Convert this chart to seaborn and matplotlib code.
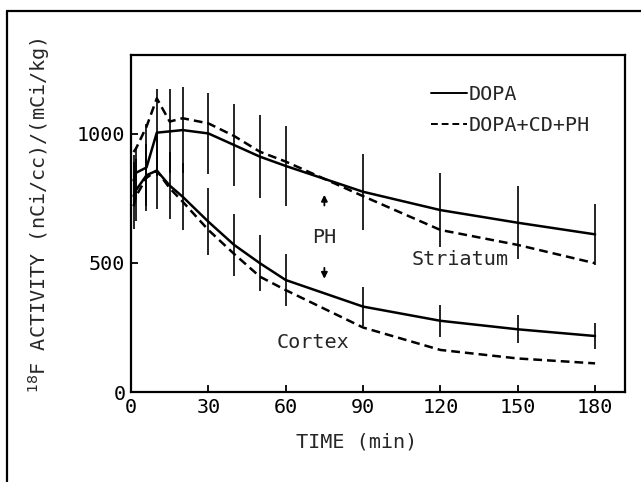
import pandas as pd
import seaborn as sns
import matplotlib.pyplot as plt
from matplotlib.lines import Line2D

# time points (min)
times = [1, 2, 6, 10, 15, 20, 30, 40, 50, 60, 90, 120, 150, 180]

# striatum
str_dopa = [820, 850, 870, 1005, 1010, 1015, 1002, 957, 912, 876, 776, 705, 656, 611]
str_dopa_err = [100, 100, 170, 168, 163, 167, 158, 160, 161, 156, 148, 144, 142, 118]
str_ph = [930, 945, 1028, 1138, 1048, 1061, 1041, 992, 931, 893, 759, 628, 570, 499]

# cortex
ctx_dopa = [760, 783, 840, 858, 800, 757, 660, 570, 499, 434, 331, 276, 243, 217]
ctx_dopa_err = [130, 120, 120, 150, 130, 130, 130, 120, 108, 99, 75, 62, 55, 50]
ctx_ph = [720, 760, 830, 858, 790, 738, 628, 535, 447, 395, 250, 163, 130, 111]

groups = {
    ("Striatum", "DOPA"): str_dopa,
    ("Striatum", "DOPA+CD+PH"): str_ph,
    ("Cortex", "DOPA"): ctx_dopa,
    ("Cortex", "DOPA+CD+PH"): ctx_ph,
}
rows = []
for (region, treat), vals in groups.items():
    for t, v in zip(times, vals):
        rows.append({"time": t, "activity": v, "region": region, "treatment": treat})
df = pd.DataFrame(rows)

sns.set_style("ticks")
plt.rcParams["font.family"] = ["DejaVu Sans Mono", "DejaVu Sans"]
plt.rcParams["font.size"] = 14.5

fig = plt.figure(figsize=(6.41, 4.82), dpi=100)
ax = fig.add_axes([0.2044, 0.1867, 0.7706, 0.6992])

sns.lineplot(data=df, x="time", y="activity", style="treatment", units="region",
             estimator=None, color="black", linewidth=1.8, ax=ax,
             dashes={"DOPA": "", "DOPA+CD+PH": (3.5, 2)})

# error bars on DOPA series
ax.errorbar(times, str_dopa, yerr=str_dopa_err, fmt="none", ecolor="black", elinewidth=1.2, capsize=0)
ax.errorbar(times, ctx_dopa, yerr=ctx_dopa_err, fmt="none", ecolor="black", elinewidth=1.2, capsize=0)

ax.set_xlim(0, 191.6)
ax.set_ylim(0, 1306)
ax.set_xticks([0, 30, 60, 90, 120, 150, 180])
ax.set_yticks([0, 500, 1000])
ax.tick_params(direction="in", length=5, width=1.3, colors="black", labelsize=14.5, pad=4)
for s in ax.spines.values():
    s.set_linewidth(1.6)
    s.set_color("black")

ax.set_xlabel("TIME (min)", fontsize=14.5)
ax.xaxis.set_label_coords(0.457, -0.12)
ax.set_ylabel(r"$^{18}$F ACTIVITY (nCi/cc)/(mCi/kg)", fontsize=14.5)
ax.yaxis.set_label_coords(-0.16, 0.525)

# annotations
ax.text(75, 597, "PH", ha="center", va="center", fontsize=14.5)
ax.annotate("", xy=(75, 775), xytext=(75, 712),
            arrowprops=dict(arrowstyle="-|>", lw=1.3, color="black", mutation_scale=9))
ax.annotate("", xy=(75, 428), xytext=(75, 492),
            arrowprops=dict(arrowstyle="-|>", lw=1.3, color="black", mutation_scale=9))
ax.text(127.6, 515, "Striatum", ha="center", va="center", fontsize=14.5)
ax.text(70.6, 190, "Cortex", ha="center", va="center", fontsize=14.5)

leg = ax.legend(loc="upper right", bbox_to_anchor=(0.95, 0.94), frameon=False,
                handlelength=1.8, handletextpad=0.1, labelspacing=0.6,
                fontsize=14.5, borderpad=0)
for h in leg.legend_handles:
    h.set_linewidth(1.4)

# outer frame (left and top edges visible)
fig.add_artist(Line2D([0.011, 0.011], [0.0, 0.977], transform=fig.transFigure, color="black", lw=1.6))
fig.add_artist(Line2D([0.011, 1.0], [0.977, 0.977], transform=fig.transFigure, color="black", lw=1.6))

fig.savefig("out.png", dpi=100, facecolor="white")
